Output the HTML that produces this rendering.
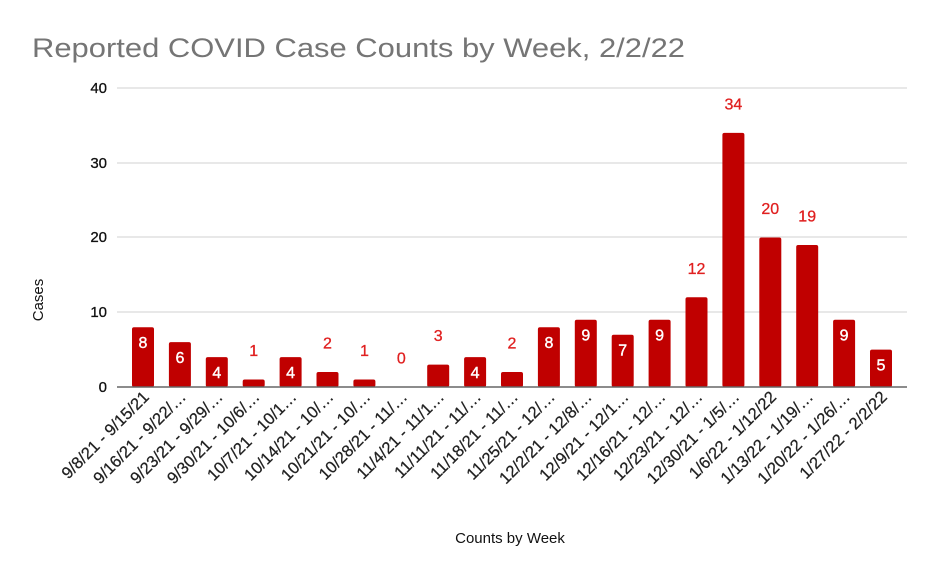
<!DOCTYPE html>
<html><head><meta charset="utf-8"><style>
html,body{margin:0;padding:0;background:#fff;}
svg{display:block;font-family:"Liberation Sans",Arial,sans-serif;}
</style></head><body>
<svg width="936" height="578" viewBox="0 0 936 578" xmlns="http://www.w3.org/2000/svg">
<rect width="936" height="578" fill="#fff"/>
<text x="32" y="57" font-size="27" fill="#757575" textLength="653" lengthAdjust="spacingAndGlyphs">Reported COVID Case Counts by Week, 2/2/22</text>
<g stroke="#e0e0e0" stroke-width="1.5">
<line x1="117" x2="907" y1="88" y2="88"/>
<line x1="117" x2="907" y1="163" y2="163"/>
<line x1="117" x2="907" y1="237" y2="237"/>
<line x1="117" x2="907" y1="312" y2="312"/>
</g>
<g font-size="15" fill="#111" text-anchor="end" stroke="#111" stroke-width="0.3">
<text x="107" y="93">40</text>
<text x="107" y="168">30</text>
<text x="107" y="242">20</text>
<text x="107" y="317">10</text>
<text x="107" y="392">0</text>
</g>
<text transform="translate(43,300) rotate(-90)" font-size="15" fill="#111" text-anchor="middle">Cases</text>
<text x="510" y="543" font-size="15" fill="#111" text-anchor="middle">Counts by Week</text>
<g fill="#c00000">
<rect x="132" y="327.2" width="22" height="59.8" rx="2"/>
<rect x="168.9" y="342.15" width="22" height="44.85" rx="2"/>
<rect x="205.8" y="357.1" width="22" height="29.9" rx="2"/>
<rect x="242.7" y="379.5" width="22" height="7.5" rx="2"/>
<rect x="279.6" y="357.1" width="22" height="29.9" rx="2"/>
<rect x="316.5" y="372.05" width="22" height="14.95" rx="2"/>
<rect x="353.4" y="379.5" width="22" height="7.5" rx="2"/>
<rect x="427.2" y="364.6" width="22" height="22.4" rx="2"/>
<rect x="464.1" y="357.1" width="22" height="29.9" rx="2"/>
<rect x="501" y="372.05" width="22" height="14.95" rx="2"/>
<rect x="537.9" y="327.2" width="22" height="59.8" rx="2"/>
<rect x="574.8" y="319.7" width="22" height="67.3" rx="2"/>
<rect x="611.7" y="334.7" width="22" height="52.3" rx="2"/>
<rect x="648.6" y="319.7" width="22" height="67.3" rx="2"/>
<rect x="685.5" y="297.3" width="22" height="89.7" rx="2"/>
<rect x="722.4" y="132.85" width="22" height="254.15" rx="2"/>
<rect x="759.3" y="237.5" width="22" height="149.5" rx="2"/>
<rect x="796.2" y="245" width="22" height="142" rx="2"/>
<rect x="833.1" y="319.7" width="22" height="67.3" rx="2"/>
<rect x="870" y="349.6" width="22" height="37.4" rx="2"/>
</g>
<g font-size="16" text-anchor="middle" fill="#fff" stroke="#fff" stroke-width="0.4">
<text x="143" y="348">8</text>
<text x="179.9" y="363">6</text>
<text x="216.8" y="378">4</text>
<text x="290.6" y="378">4</text>
<text x="475.1" y="378">4</text>
<text x="548.9" y="348">8</text>
<text x="585.8" y="340.7">9</text>
<text x="622.7" y="355.7">7</text>
<text x="659.6" y="340.7">9</text>
<text x="844.1" y="340.7">9</text>
<text x="881" y="370.6">5</text>
</g>
<g font-size="16" text-anchor="middle" fill="#e02020" stroke="#e02020" stroke-width="0.3">
<text x="253.7" y="356">1</text>
<text x="327.5" y="348.5">2</text>
<text x="364.4" y="356">1</text>
<text x="401.3" y="363.5">0</text>
<text x="438.2" y="341">3</text>
<text x="512" y="348.5">2</text>
<text x="696.5" y="274">12</text>
<text x="733.4" y="109.5">34</text>
<text x="770.3" y="214">20</text>
<text x="807.2" y="221.5">19</text>
</g>
<line x1="117" x2="907" y1="387" y2="387" stroke="#666" stroke-width="1.5"/>
<g font-size="16.5" fill="#222" text-anchor="end" stroke="#222" stroke-width="0.25">
<text transform="translate(150,398) rotate(-45)">9/8/21 - 9/15/21</text>
<text transform="translate(186.9,398) rotate(-45)">9/16/21 - 9/22/…</text>
<text transform="translate(223.8,398) rotate(-45)">9/23/21 - 9/29/…</text>
<text transform="translate(260.7,398) rotate(-45)">9/30/21 - 10/6/…</text>
<text transform="translate(297.6,398) rotate(-45)">10/7/21 - 10/1…</text>
<text transform="translate(334.5,398) rotate(-45)">10/14/21 - 10/…</text>
<text transform="translate(371.4,398) rotate(-45)">10/21/21 - 10/…</text>
<text transform="translate(408.3,398) rotate(-45)">10/28/21 - 11/…</text>
<text transform="translate(445.2,398) rotate(-45)">11/4/21 - 11/1…</text>
<text transform="translate(482.1,398) rotate(-45)">11/11/21 - 11/…</text>
<text transform="translate(519,398) rotate(-45)">11/18/21 - 11/…</text>
<text transform="translate(555.9,398) rotate(-45)">11/25/21 - 12/…</text>
<text transform="translate(592.8,398) rotate(-45)">12/2/21 - 12/8/…</text>
<text transform="translate(629.7,398) rotate(-45)">12/9/21 - 12/1…</text>
<text transform="translate(666.6,398) rotate(-45)">12/16/21 - 12/…</text>
<text transform="translate(703.5,398) rotate(-45)">12/23/21 - 12/…</text>
<text transform="translate(740.4,398) rotate(-45)">12/30/21 - 1/5/…</text>
<text transform="translate(777.3,398) rotate(-45)">1/6/22 - 1/12/22</text>
<text transform="translate(814.2,398) rotate(-45)">1/13/22 - 1/19/…</text>
<text transform="translate(851.1,398) rotate(-45)">1/20/22 - 1/26/…</text>
<text transform="translate(888,398) rotate(-45)">1/27/22 - 2/2/22</text>
</g>
</svg>
</body></html>
